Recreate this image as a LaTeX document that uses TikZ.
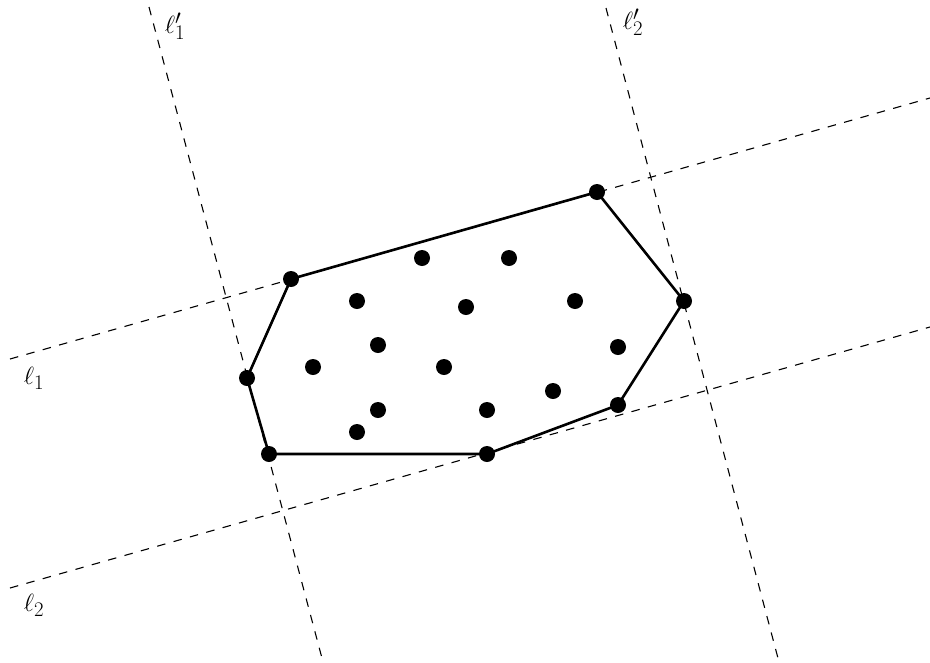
\documentclass[tikz,border=0pt]{standalone}
\begin{document}
\begin{tikzpicture}[x=1pt,y=-1pt,
  dot/.style={circle,fill=black,inner sep=0pt,minimum size=16pt},
  guide/.style={dash pattern=on 8.5pt off 8.5pt,line width=1.1pt},
  hull/.style={line width=2.6pt,line join=round},
  lab/.style={font=\Huge,inner sep=0pt}]
\useasboundingbox (0,0) rectangle (930,662);
% guide line end points
\coordinate (a1) at (10,359);
\coordinate (b1) at (930,98);
\coordinate (a2) at (10,588);
\coordinate (b2) at (930,327);
\coordinate (c1) at (149,7);
\coordinate (d1) at (323,662);
\coordinate (c2) at (606,8);
\coordinate (d2) at (779,662);
\draw[guide] (a1) -- (b1);
\draw[guide] (a2) -- (b2);
\draw[guide] (c1) -- (d1);
\draw[guide] (c2) -- (d2);
% labels
\node[lab] (l1p) at (175,26) {$\ell_1'$};
\node[lab] (l2p) at (633,22) {$\ell_2'$};
\node[lab] (l1) at (34,378) {$\ell_1$};
\node[lab] (l2) at (34,605) {$\ell_2$};
% hull vertices
\node[dot] (h1) at (597,192) {};
\node[dot] (h2) at (684,301) {};
\node[dot] (h3) at (618,405) {};
\node[dot] (h4) at (487,454) {};
\node[dot] (h5) at (269,454) {};
\node[dot] (h6) at (247,378) {};
\node[dot] (h7) at (291,279) {};
\draw[hull] (h1.center) -- (h2.center) -- (h3.center) -- (h4.center) -- (h5.center) -- (h6.center) -- (h7.center) -- cycle;
% interior points
\node[dot] (p1) at (422,258) {};
\node[dot] (p2) at (509,258) {};
\node[dot] (p3) at (357,301) {};
\node[dot] (p4) at (466,307) {};
\node[dot] (p5) at (575,301) {};
\node[dot] (p6) at (378,345) {};
\node[dot] (p7) at (313,367) {};
\node[dot] (p8) at (444,367) {};
\node[dot] (p9) at (618,347) {};
\node[dot] (p10) at (553,391) {};
\node[dot] (p11) at (378,410) {};
\node[dot] (p12) at (487,410) {};
\node[dot] (p13) at (357,432) {};
\end{tikzpicture}
\end{document}
